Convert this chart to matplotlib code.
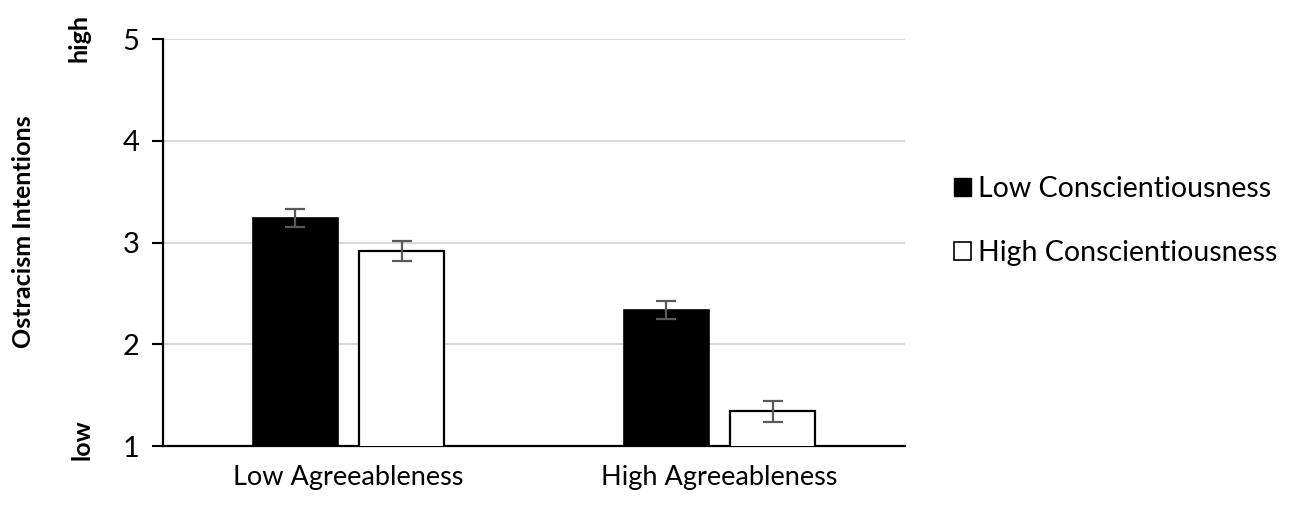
import numpy as np
import matplotlib.pyplot as plt
from matplotlib.patches import Patch

plt.rcParams['font.family'] = ['Lato', 'DejaVu Sans']

# data
groups = ['Low Agreeableness', 'High Agreeableness']
series = ['Low Conscientiousness', 'High Conscientiousness']
low_consc = [3.24, 2.34]
high_consc = [2.92, 1.34]
low_err = [0.09, 0.09]
high_err = [0.10, 0.10]
yticks = [1, 2, 3, 4, 5]

fig = plt.figure(figsize=(12.95, 5.08), dpi=100)
ax = fig.add_axes([0.1259, 0.122, 0.5729, 0.801])

x = np.arange(len(groups))
w = 0.229
off = 0.143
err_kw = dict(ecolor='#595959', capsize=7, elinewidth=1.6, capthick=1.6)
ax.bar(x - off, low_consc, w, color='black', edgecolor='black',
       linewidth=1.2, yerr=low_err, error_kw=err_kw, zorder=3)
ax.bar(x + off, high_consc, w, color='white', edgecolor='black',
       linewidth=1.6, yerr=high_err, error_kw=err_kw, zorder=3)

ax.set_xlim(-0.5, 1.5)
ax.set_ylim(1, 5)
ax.set_yticks(yticks)
ax.set_xticks(x)
ax.set_xticklabels(groups, fontsize=19.5)
ax.tick_params(axis='x', length=0, pad=14)
ax.tick_params(axis='y', labelsize=21, length=8, width=1.5, direction='out', pad=9)
ax.yaxis.grid(True, color='#d9d9d9', linewidth=1.5, zorder=0)
for s in ['top', 'right']:
    ax.spines[s].set_visible(False)
ax.spines['left'].set_linewidth(1.6)
ax.spines['bottom'].set_linewidth(1.6)

fig.text(0.018, 0.543, 'Ostracism Intentions', rotation=90, fontsize=18,
         fontweight='bold', ha='center', va='center')
fig.text(0.061, 0.925, 'high', rotation=90, fontsize=18, fontweight='bold',
         ha='center', va='center')
fig.text(0.063, 0.135, 'low', rotation=90, fontsize=18, fontweight='bold',
         ha='center', va='center')

handles = [Patch(facecolor='black', edgecolor='black'),
           Patch(facecolor='white', edgecolor='black', linewidth=1.2)]
fig.legend(handles, series, loc='center left', bbox_to_anchor=(0.717, 0.565),
           frameon=False, fontsize=20.5, handlelength=0.6, handleheight=0.6,
           handletextpad=0.25, labelspacing=1.35)

fig.savefig('out.png', dpi=100)
